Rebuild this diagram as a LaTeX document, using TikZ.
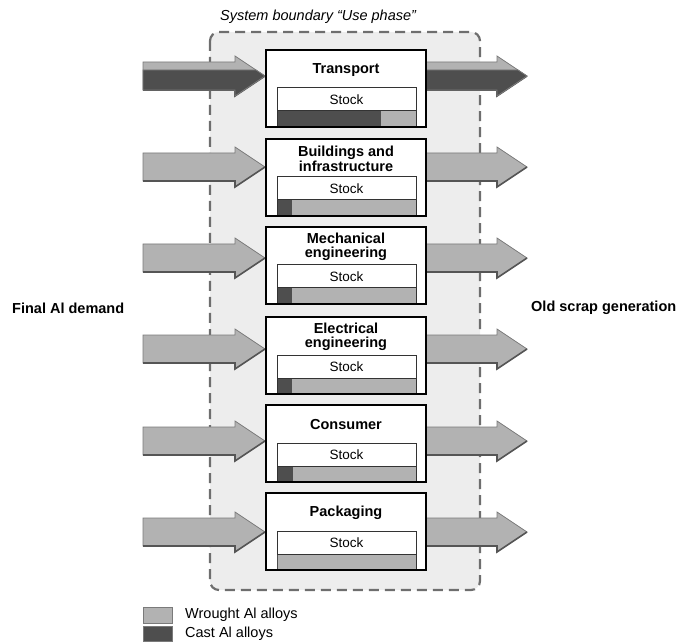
\documentclass[tikz,border=0pt]{standalone}
\usepackage{fontspec}
\setmainfont{Liberation Sans}
\definecolor{lightAl}{HTML}{B2B2B2}
\definecolor{darkAl}{HTML}{4E4E4E}
\definecolor{bnd}{HTML}{EDEDED}
\definecolor{bndline}{HTML}{6E6E6E}
\definecolor{arrowline}{HTML}{7A7A7A}
\definecolor{arrowshade}{HTML}{555555}
\definecolor{stockedge}{HTML}{333333}
\begin{document}
\begin{tikzpicture}[x=1pt,y=-1pt,
  sector/.style={draw=black, line width=2.6pt, fill=white, minimum width=160pt, minimum height=77pt, outer sep=0pt, inner sep=0pt},
  sectortitle/.style={font=\bfseries\fontsize{14.5}{14.5}\selectfont, align=center, inner sep=0pt},
  stocktext/.style={font=\fontsize{13.5}{15}\selectfont, inner sep=0pt},
  flow/.style={fill=lightAl, draw=arrowline, line width=0.8pt, line join=miter},
  flowdark/.style={fill=darkAl, draw=arrowline, line width=0.8pt, line join=miter},
  flowshade/.style={draw=arrowshade, line width=1.6pt},
  stockline/.style={draw=stockedge, line width=1pt},
  legtext/.style={font=\fontsize{14.5}{16}\selectfont, anchor=west, inner sep=0pt},
  sidelabel/.style={font=\bfseries\fontsize{14.5}{16}\selectfont, anchor=west, inner sep=0pt}]
\useasboundingbox (0,0) rectangle (688,644);

% system boundary
\draw[bndline, line width=2.2pt, dash pattern=on 10pt off 6pt, fill=bnd, rounded corners=9pt]
  (210,32) rectangle (480,590);
\node[font=\itshape\fontsize{14.5}{16}\selectfont, anchor=west, inner sep=0pt] (title) at (220,17) {System boundary “Use phase”};

% flow arrows
\foreach \c in {76,167,258,349,441,532}{
  \filldraw[flow] (143,\c-14) -- (235,\c-14) -- (235,\c-20) -- (265,\c) -- (235,\c+20) -- (235,\c+14) -- (143,\c+14) -- cycle;
  \draw[flowshade] (143,\c+14) -- (235,\c+14) -- (235,\c+20) -- (265,\c);
  \filldraw[flow] (426,\c-14) -- (497,\c-14) -- (497,\c-20) -- (527,\c) -- (497,\c+20) -- (497,\c+14) -- (426,\c+14) -- cycle;
  \draw[flowshade] (426,\c+14) -- (497,\c+14) -- (497,\c+20) -- (527,\c);
}
% transport: cast share
\filldraw[flowdark] (143,70) -- (256,70) -- (265,76) -- (235,96) -- (235,90) -- (143,90) -- cycle;
\filldraw[flowdark] (426,70) -- (518,70) -- (527,76) -- (497,96) -- (497,90) -- (426,90) -- cycle;

% sector boxes
\foreach \t/\d/\n/\lab in {50/381/transport/{Transport},
                           139/292/buildings/{Buildings and\\infrastructure},
                           227/292/mechanical/{Mechanical\\engineering},
                           317/292/electrical/{Electrical\\engineering},
                           405/293/consumer/{Consumer},
                           493/277/packaging/{Packaging}}{
  \node[sector] (\n) at (346,\t+38.5) {};
  \node[sectortitle] (\n-title) at (346,\t+20) {\lab};
  \filldraw[stockline, fill=white] (277,\t+38) rectangle (416,\t+61);
  \node[stocktext] (\n-stock) at (346.5,\t+49.5) {Stock};
  \filldraw[stockline, fill=lightAl] (277,\t+61) rectangle (416,\t+77);
  \fill[darkAl] (277.5,\t+61.5) rectangle (\d,\t+77);
  \draw[line width=2.6pt] (\n.north west) rectangle (\n.south east);
}

% side labels
\node[sidelabel] (demand) at (12,308) {Final Al demand};
\node[sidelabel] (scrap) at (531,308) {Old scrap generation};

% legend
\filldraw[draw=arrowline, line width=0.8pt, fill=lightAl] (143,607) rectangle (172,623);
\filldraw[draw=arrowline, line width=0.8pt, fill=darkAl] (143,626) rectangle (172,641);
\node[legtext] (wrought) at (185,615) {Wrought Al alloys};
\node[legtext] (cast) at (185,634) {Cast Al alloys};
\end{tikzpicture}
\end{document}
